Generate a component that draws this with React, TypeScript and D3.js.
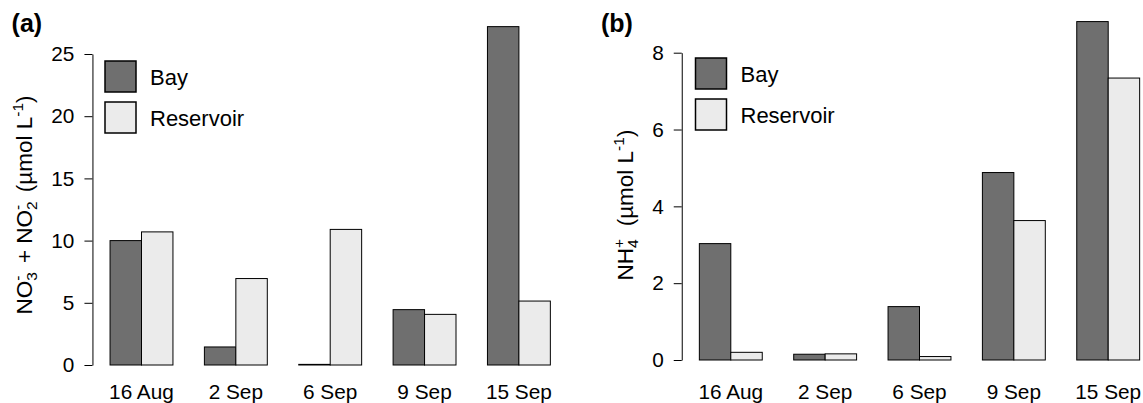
import React, { useEffect, useRef } from "react";
import * as d3 from "d3";

const dates = ["16 Aug", "2 Sep", "6 Sep", "9 Sep", "15 Sep"];
const seriesNames = ["Bay", "Reservoir"];
const nitrateBay = [10.0, 1.45, 0.05, 4.45, 27.2];
const nitrateRes = [10.7, 6.95, 10.9, 4.07, 5.14];
const ammoniumBay = [3.03, 0.15, 1.39, 4.88, 8.81];
const ammoniumRes = [0.2, 0.16, 0.09, 3.63, 7.34];
const nitrateTicks = [0, 5, 10, 15, 20, 25];
const ammoniumTicks = [0, 2, 4, 6, 8];

const fills = ["#6f6f6f", "#ebebeb"];
const FONT = "'Liberation Sans', Arial, Helvetica, sans-serif";

function drawPanel(svg, opts) {
  const { x0, yTop, yZero, yMax, ticks, bay, res, tag, legendX, legendY, titleX, title } = opts;
  const unit = 31.45;
  // R barplot units: groups of 2 bars with 1-unit gap, axis at 0.44 units
  const x = d3.scaleLinear().domain([0, 1]).range([x0, x0 + unit]);
  const y = d3.scaleLinear().domain([0, yMax]).range([yZero, yTop]);
  const g = svg.append("g");

  const rows = dates.map((d, i) => ({ d, i, vals: [bay[i], res[i]] }));
  rows.forEach((r) => {
    const start = 1 + r.i * 3;
    r.vals.forEach((v, k) => {
      g.append("rect")
        .attr("x", x(start + k))
        .attr("y", y(v))
        .attr("width", x(start + k + 1) - x(start + k))
        .attr("height", y(0) - y(v))
        .attr("fill", fills[k])
        .attr("stroke", "#000")
        .attr("stroke-width", 1);
    });
    g.append("text")
      .attr("x", x(start + 1))
      .attr("y", 399)
      .attr("text-anchor", "middle")
      .attr("font-family", FONT)
      .attr("font-size", 20.8)
      .attr("fill", "#000")
      .text(r.d);
  });

  const axis = d3.axisLeft(y).tickValues(ticks).tickSize(8).tickSizeOuter(0).tickPadding(10);
  const ax = g.append("g").attr("transform", `translate(${x(0.44)},0)`).call(axis);
  ax.select(".domain").attr("stroke", "#000");
  ax.selectAll(".tick line").attr("stroke", "#000");
  ax.selectAll(".tick text")
    .attr("font-family", FONT)
    .attr("font-size", 20.8)
    .attr("fill", "#000");

  // legend
  seriesNames.forEach((name, k) => {
    const ly = legendY + k * 41;
    g.append("rect")
      .attr("x", legendX)
      .attr("y", ly)
      .attr("width", 31)
      .attr("height", 31)
      .attr("fill", fills[k])
      .attr("stroke", "#000")
      .attr("stroke-width", 1.5);
    g.append("text")
      .attr("x", legendX + 45)
      .attr("y", ly + 23.5)
      .attr("font-family", FONT)
      .attr("font-size", 22)
      .attr("fill", "#000")
      .text(name);
  });

  g.append("text")
    .attr("x", x0 - 67)
    .attr("y", 32)
    .attr("font-family", FONT)
    .attr("font-size", 25)
    .attr("font-weight", "bold")
    .attr("fill", "#000")
    .text(tag);

  const t = g.append("text")
    .attr("transform", `translate(${titleX},205) rotate(-90)`)
    .attr("text-anchor", "middle")
    .attr("font-family", FONT)
    .attr("font-size", 22.5)
    .attr("fill", "#000");
  title(t);
}

export default function App() {
  const svgRef = useRef(null);

  useEffect(() => {
    const svg = d3.select(svgRef.current);
    svg.selectAll("*").remove();
    svg.append("rect").attr("width", 1143).attr("height", 403).attr("fill", "#fff");

    drawPanel(svg, {
      x0: 78.6, yTop: 54, yZero: 365, yMax: 25, ticks: nitrateTicks,
      bay: nitrateBay, res: nitrateRes, tag: "(a)", legendX: 105, legendY: 61, titleX: 32,
      title: (t) => {
        t.append("tspan").text("NO");
        t.append("tspan").attr("font-size", 15.5).attr("dy", 5).text("3");
        t.append("tspan").attr("font-size", 15.5).attr("dx", -8.6).attr("dy", -14).text("-");
        t.append("tspan").attr("dy", 9).text("\u00a0\u00a0+\u00a0NO");
        t.append("tspan").attr("font-size", 15.5).attr("dy", 5).text("2");
        t.append("tspan").attr("font-size", 15.5).attr("dx", -8.6).attr("dy", -14).text("-");
        t.append("tspan").attr("dy", 9).text("\u00a0\u00a0(\u00b5mol L");
        t.append("tspan").attr("font-size", 15.5).attr("dy", -9).text("-1");
        t.append("tspan").attr("dy", 9).text(")");
      },
    });

    drawPanel(svg, {
      x0: 667.9, yTop: 52.7, yZero: 360, yMax: 8, ticks: ammoniumTicks,
      bay: ammoniumBay, res: ammoniumRes, tag: "(b)", legendX: 695.5, legendY: 58, titleX: 633,
      title: (t) => {
        t.append("tspan").text("NH");
        t.append("tspan").attr("font-size", 15.5).attr("dy", 5).text("4");
        t.append("tspan").attr("font-size", 15.5).attr("dx", -8.6).attr("dy", -14).text("+");
        t.append("tspan").attr("dy", 9).text("\u00a0\u00a0(\u00b5mol L");
        t.append("tspan").attr("font-size", 15.5).attr("dy", -9).text("-1");
        t.append("tspan").attr("dy", 9).text(")");
      },
    });
  }, []);

  return (
    <div style={{ position: "absolute", left: 0, top: 0 }}>
      <svg ref={svgRef} width={1143} height={403} style={{ display: "block" }} />
    </div>
  );
}
